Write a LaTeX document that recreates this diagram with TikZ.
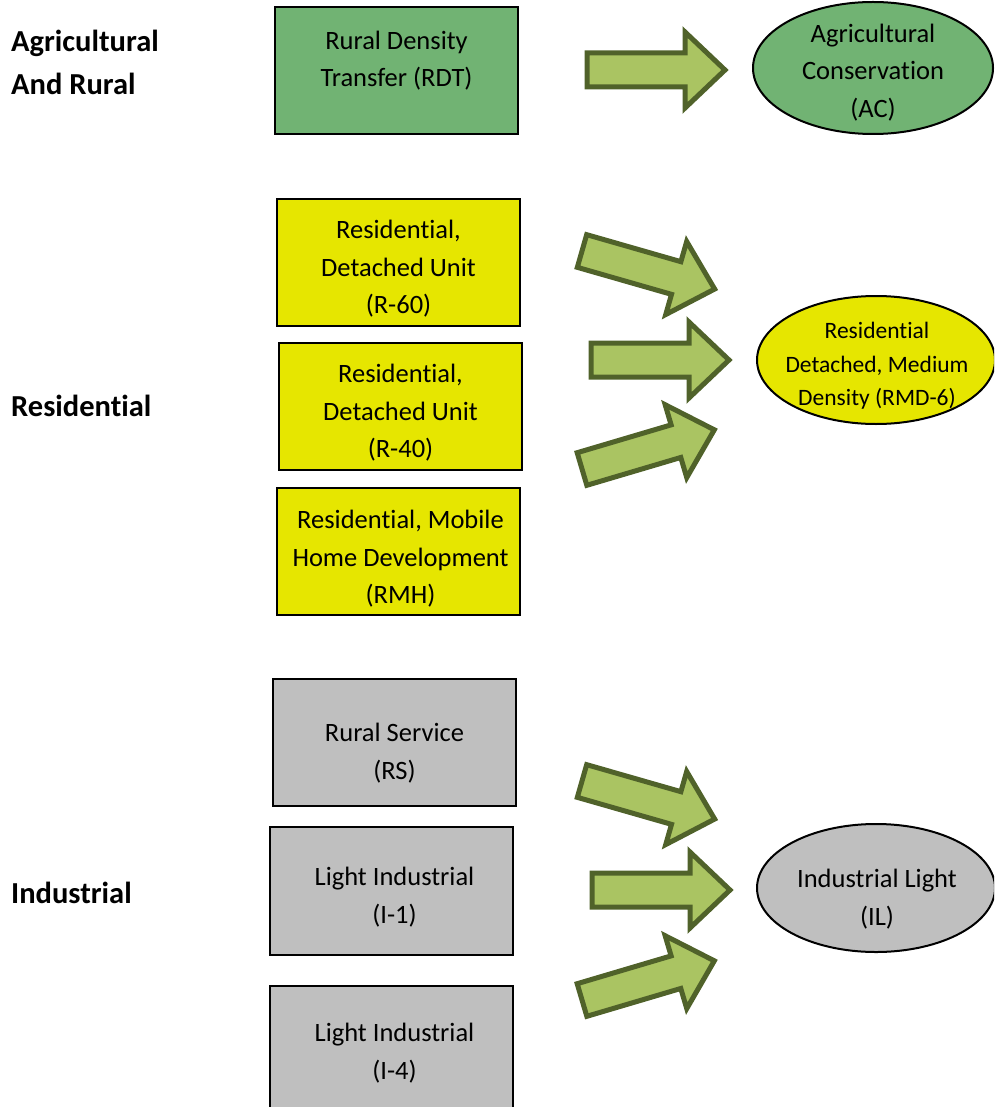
\documentclass[tikz,border=0pt]{standalone}
\usepackage{fontspec}
\setmainfont{Carlito}[Ligatures=NoCommon]
\usetikzlibrary{shapes.geometric}
\definecolor{agrgreen}{HTML}{71B373}
\definecolor{resyellow}{HTML}{E6E600}
\definecolor{indgray}{HTML}{BFBFBF}
\definecolor{arrfill}{HTML}{AAC462}
\definecolor{arrline}{HTML}{50622A}
\tikzset{
  zbox/.style={draw=black, line width=2pt, rectangle, minimum width=243pt, minimum height=127pt, inner sep=0pt},
  zell/.style={draw=black, line width=2pt, ellipse, minimum width=238pt, minimum height=128pt, inner sep=0pt},
  ztext/.style={align=center, inner sep=0pt, font=\fontsize{26.5}{37.5}\selectfont},
  zsmall/.style={align=center, inner sep=0pt, font=\fontsize{23.5}{33.5}\selectfont},
  zcat/.style={align=left, anchor=west, inner sep=0pt, font=\bfseries\fontsize{30.5}{43}\selectfont},
  arrowstyle/.style={fill=arrfill, draw=arrline, line width=5pt, line join=miter},
  blockarrow/.pic={\draw[arrowstyle] (0,-17)--(98,-17)--(98,-38)--(138,0)--(98,38)--(98,17)--(0,17)--cycle;}
}
\begin{document}
\begin{tikzpicture}[x=1pt,y=-1pt]
\useasboundingbox (0,0) rectangle (994,1107);
\clip (0,0) rectangle (994,1107);
% category labels
\node[zcat] (lagr) at (11,62.5) {Agricultural\\And Rural};
\node[zcat] (lres) at (11,406) {Residential};
\node[zcat] (lind) at (11,893) {Industrial};
% boxes
\node[zbox, fill=agrgreen] (rdt) at (396.5,71) {};
\node[ztext] (trdt) at (396.5,60.5) {Rural Density\\Transfer (RDT)};
\node[zbox, fill=resyellow] (r60) at (398.5,262.5) {};
\node[ztext] (tr60) at (398.5,269) {Residential,\\Detached Unit\\(R-60)};
\node[zbox, fill=resyellow] (r40) at (400.5,406.5) {};
\node[ztext] (tr40) at (400.5,413) {Residential,\\Detached Unit\\(R-40)};
\node[zbox, fill=resyellow] (rmh) at (398.5,551.5) {};
\node[ztext] (trmh) at (400.5,559) {Residential, Mobile\\Home Development\\(RMH)};
\node[zbox, fill=indgray] (rs) at (394.5,742.5) {};
\node[ztext] (trs) at (394.5,753) {Rural Service\\(RS)};
\node[zbox, fill=indgray, minimum height=128pt] (i1) at (391.5,891) {};
\node[ztext] (ti1) at (394.5,897) {Light Industrial\\(I-1)};
\node[zbox, fill=indgray, minimum height=140pt] (i4) at (391.5,1056) {};
\node[ztext] (ti4) at (394.5,1053) {Light Industrial\\(I-4)};
% ellipses
\node[zell, fill=agrgreen, minimum width=240pt, minimum height=132pt] (ac) at (873,68) {};
\node[ztext] (tac) at (873,72.5) {Agricultural\\Conservation\\(AC)};
\node[zell, fill=resyellow] (rmd) at (876,360) {};
\node[zsmall] (trmd) at (877,366) {Residential\\Detached, Medium\\Density (RMD-6)};
\node[zell, fill=indgray] (il) at (876,888) {};
\node[ztext] (til) at (877,899) {Industrial Light\\(IL)};
% block arrows
\pic at (587,70) {blockarrow};
\pic[rotate=-16] at (582,251) {blockarrow};
\pic at (591,360) {blockarrow};
\pic[rotate=16.5] at (582,469) {blockarrow};
\pic[rotate=-16] at (582,781) {blockarrow};
\pic at (592,890) {blockarrow};
\pic[rotate=16.5] at (582,1000) {blockarrow};
\end{tikzpicture}
\end{document}
